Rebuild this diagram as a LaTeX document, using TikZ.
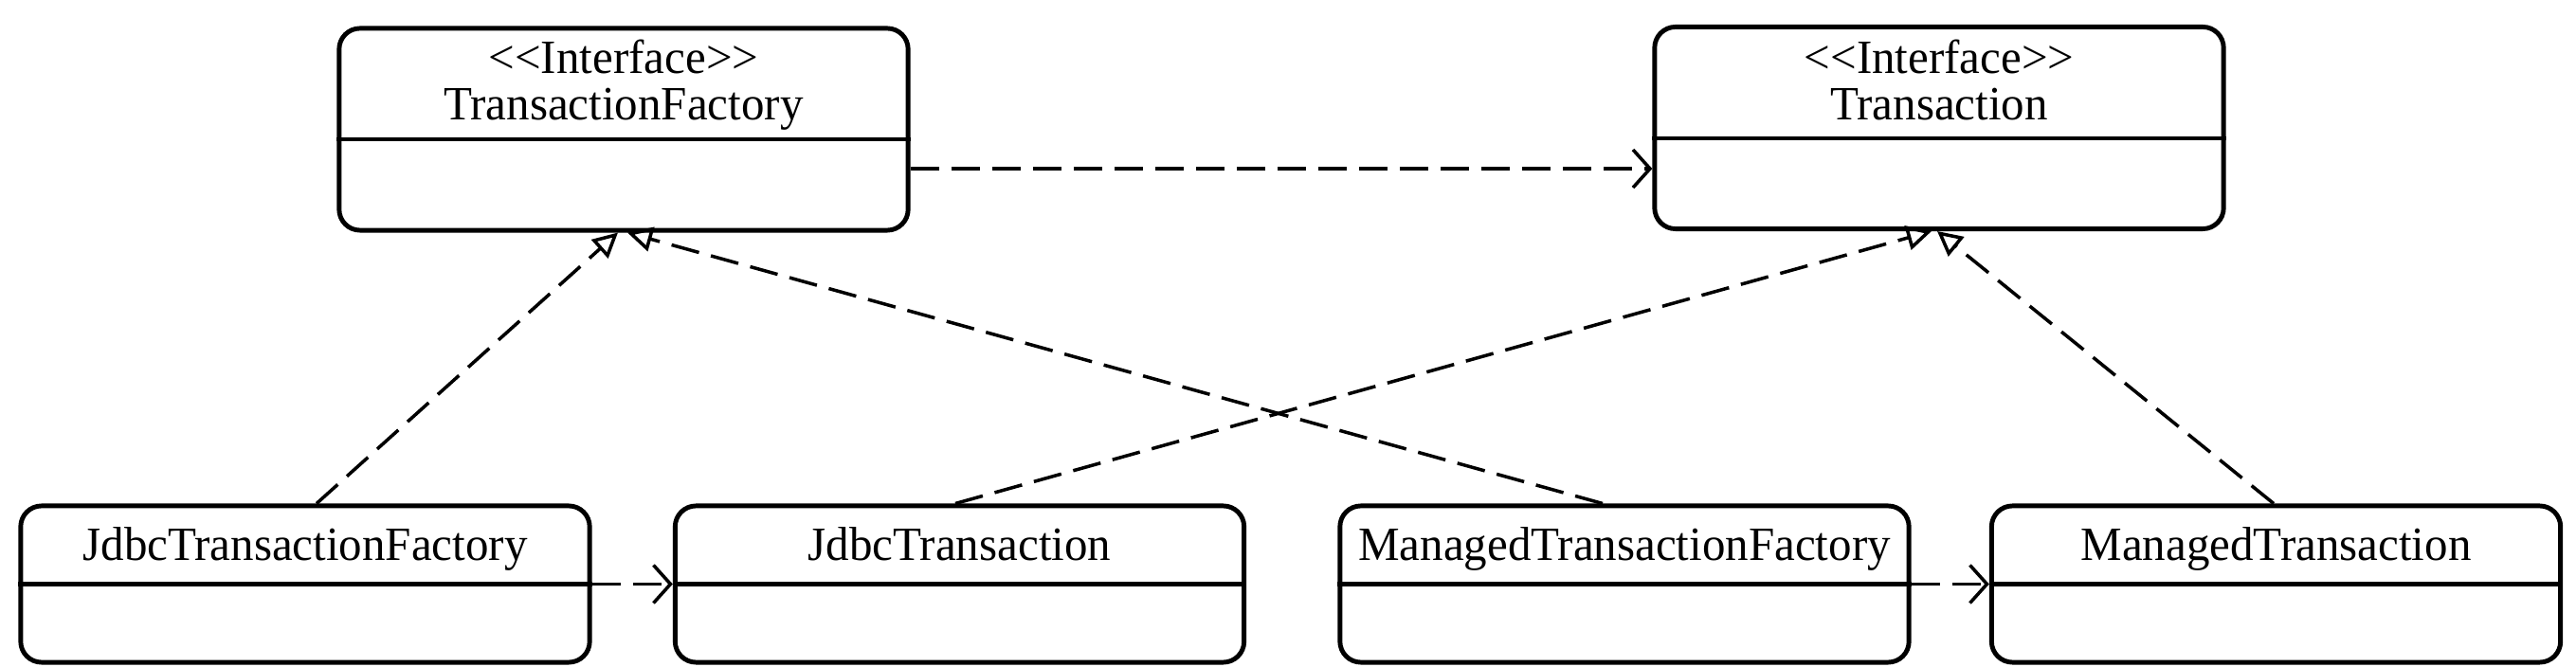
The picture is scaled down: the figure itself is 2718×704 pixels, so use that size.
\documentclass[tikz,border=0pt]{standalone}
\usepackage{fontspec}
\usepackage{graphicx}
\setmainfont{Liberation Serif}
\usetikzlibrary{arrows.meta}
\newcommand{\umltxt}[1]{\scalebox{1.02}[1.05]{#1}}
\begin{document}
\begin{tikzpicture}[x=0.01cm,y=-0.01cm,
  classbox/.style={draw, line width=1.4pt, rounded corners=0.22cm, minimum width=6cm, inner sep=0pt},
  topbox/.style={classbox, minimum height=2.13cm},
  botbox/.style={classbox, minimum height=1.65cm},
  divider/.style={line width=1.4pt},
  lbl/.style={font=\fontsize{13.66pt}{13.4pt}\selectfont, inner sep=0pt, anchor=base},
  dep/.style={line width=1pt, dash pattern=on 0.30cm off 0.13cm, -{Straight Barb[length=0.18cm,width=0.40cm]}},
  real/.style={line width=1pt, dash pattern=on 0.30cm off 0.13cm, -{Triangle[open,length=0.26cm,width=0.26cm]}}
]
\useasboundingbox[fill=white] (0,0) rectangle (2718,704);

% boxes
\node[topbox] (tf) at (658,136.5) {};
\node[topbox] (tr) at (2046,135) {};
\node[botbox] (jtf) at (322,616.5) {};
\node[botbox] (jt) at (1012.5,616.5) {};
\node[botbox] (mtf) at (1714,616.5) {};
\node[botbox] (mt) at (2401.5,616.5) {};

% dividers
\draw[divider] ([yshift=-0.105cm]tf.west) -- ([yshift=-0.105cm]tf.east);
\draw[divider] ([yshift=-0.11cm]tr.west) -- ([yshift=-0.11cm]tr.east);
\draw[divider] (jtf.west) -- (jtf.east);
\draw[divider] (jt.west) -- (jt.east);
\draw[divider] (mtf.west) -- (mtf.east);
\draw[divider] (mt.west) -- (mt.east);

% labels
\node[lbl] (tf-s) at (658,78) {\umltxt{<\kern0pt<Interface>\kern0pt>}};
\node[lbl] (tf-n) at (658,127) {\umltxt{TransactionFactory}};
\node[lbl] (tr-s) at (2046,78) {\umltxt{<\kern0pt<Interface>\kern0pt>}};
\node[lbl] (tr-n) at (2046,127) {\umltxt{Transaction}};
\node[lbl] (jtf-n) at (322,592) {\umltxt{JdbcTransactionFactory}};
\node[lbl] (jt-n) at (1012.5,592) {\umltxt{JdbcTransaction}};
\node[lbl] (mtf-n) at (1714,592) {\umltxt{ManagedTransactionFactory}};
\node[lbl] (mt-n) at (2401.5,592) {\umltxt{ManagedTransaction}};

% dependencies
\draw[dep] ([yshift=-0.415cm]tf.east) -- ([yshift=-0.415cm]tf.east -| tr.west);
\draw[dep] (jtf.east) -- (jtf.east -| jt.west);
\draw[dep] (mtf.east) -- (mtf.east -| mt.west);

% realizations
\draw[real] ([xshift=0.12cm]jtf.north) -- ([xshift=-0.06cm]tf.south);
\draw[real] ([xshift=-0.23cm]mtf.north) -- ([xshift=0.04cm]tf.south);
\draw[real] ([xshift=-0.045cm]jt.north) -- ([xshift=-0.08cm]tr.south);
\draw[real] ([xshift=-0.025cm]mt.north) -- ([xshift=-0.02cm]tr.south);
\end{tikzpicture}
\end{document}
